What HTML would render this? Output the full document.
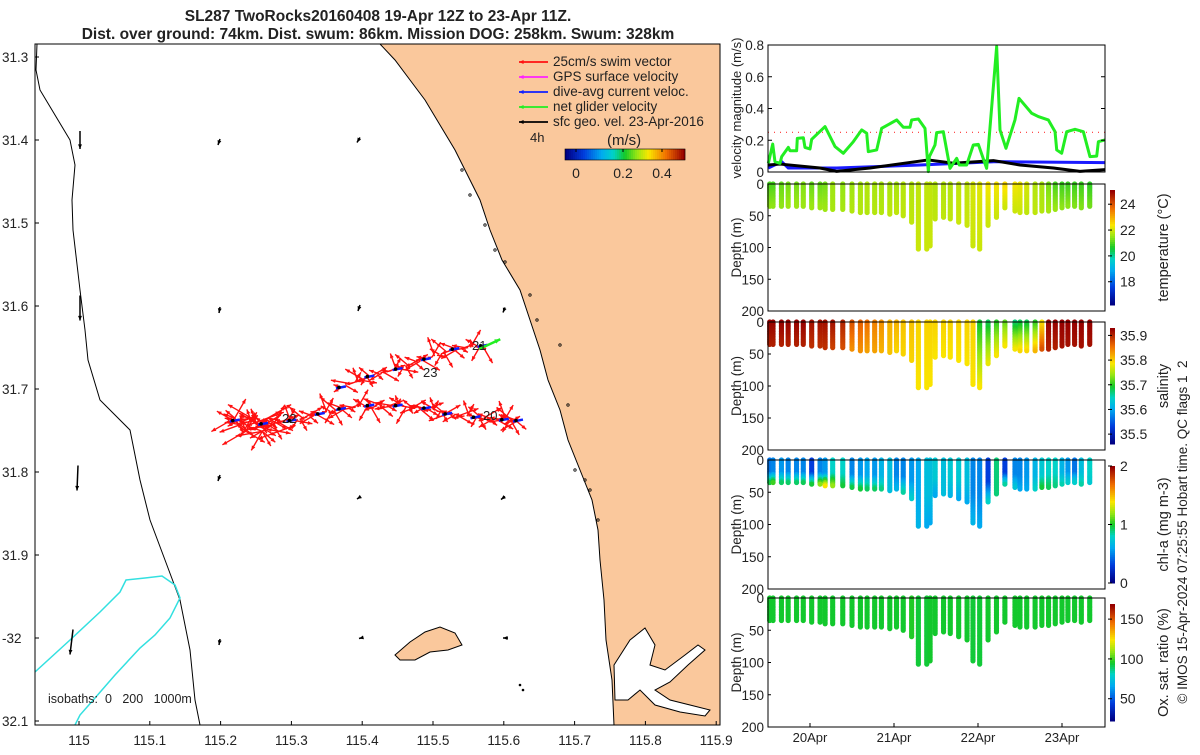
<!DOCTYPE html>
<html><head><meta charset="utf-8"><style>
body{margin:0;background:#fff;}
svg text{font-family:"Liberation Sans","DejaVu Sans",sans-serif;fill:#222;}
</style></head><body>
<svg id="fig" width="1200" height="750" viewBox="0 0 1200 750" xmlns="http://www.w3.org/2000/svg">
<text x="378" y="21" text-anchor="middle" font-size="15.5" font-weight="bold">SL287 TwoRocks20160408 19-Apr 12Z to 23-Apr 11Z.</text>
<text x="378" y="39" text-anchor="middle" font-size="15.5" font-weight="bold">Dist. over ground: 74km. Dist. swum: 86km. Mission DOG: 258km. Swum: 328km</text>
<g id="map"></g>
<g id="right"></g>
</svg>
<script>
// ---------- DATA ----------
const velDays=[19.504,19.556,19.583,19.643,19.663,19.742,19.762,19.841,19.849,19.921,19.94,20.0,20.02,20.179,20.298,20.397,20.516,20.615,20.675,20.694,20.794,20.853,21.032,21.111,21.19,21.21,21.29,21.369,21.409,21.421,21.488,21.508,21.587,21.667,21.746,21.778,21.865,21.944,22.004,22.103,22.222,22.262,22.333,22.44,22.488,22.639,22.718,22.837,22.917,22.937,22.996,23.056,23.155,23.254,23.333,23.413,23.433,23.512];
const netVel=[0.055,0.176,0.065,0.055,0.097,0.155,0.134,0.134,0.212,0.216,0.155,0.145,0.206,0.286,0.16,0.118,0.191,0.265,0.244,0.128,0.139,0.275,0.328,0.282,0.282,0.328,0.334,0.275,0.002,0.097,0.17,0.248,0.254,0.023,0.086,0.044,0.044,0.17,0.174,0.023,0.79,0.265,0.149,0.328,0.464,0.37,0.349,0.328,0.254,0.139,0.118,0.254,0.269,0.254,0.097,0.1,0.191,0.202];
const geoDays=[19.504,19.643,20.119,20.317,20.714,21.409,21.706,22.183,22.5,22.897,23.214,23.512];
const geoVel=[0.044,0.05,0.025,0.004,0.025,0.076,0.055,0.072,0.044,0.025,0.004,0.015];
const curDays=[19.504,19.663,19.742,20.317,21.31,22.222,23.512];
const curVel=[0.025,0.065,0.025,0.025,0.044,0.065,0.059];
const swimRef=0.25;
const profDays=[19.52,19.56,19.66,19.74,19.84,19.92,20.02,20.12,20.18,20.27,20.39,20.50,20.60,20.68,20.77,20.85,20.95,21.03,21.11,21.21,21.29,21.39,21.43,21.49,21.59,21.67,21.77,21.87,21.94,22.02,22.12,22.22,22.32,22.44,22.50,22.58,22.68,22.76,22.84,22.92,23.00,23.07,23.15,23.23,23.33];
const profDepth=[36,36,36,36,36,37,38,38,40,40,42,44,46,46,46,46,48,46,50,62,103,103,98,55,53,55,60,67,98,103,65,54,39,44,46,46,46,44,44,42,39,37,36,38,36];
const tempTop=[21.0,21.0,21.2,21.3,21.3,21.4,21.2,21.2,21.3,21.6,21.5,21.6,21.7,21.8,21.7,21.7,21.7,21.7,21.8,21.8,21.9,21.9,21.9,21.8,21.8,21.8,21.9,21.9,22.1,22.2,22.4,22.4,22.6,22.4,22.3,22.1,21.8,21.7,21.3,21.0,20.9,20.9,20.9,20.9,20.8];
const tempBot=[21.5,21.5,21.5,21.6,21.6,21.6,21.6,21.6,21.6,21.7,21.7,21.8,21.8,21.8,21.8,21.8,21.9,21.9,21.9,21.9,22.0,22.0,22.0,21.9,21.9,21.9,22.0,22.0,22.0,22.0,22.0,22.0,22.0,22.0,22.0,21.9,21.9,21.8,21.7,21.6,21.5,21.5,21.4,21.4,21.3];
const salTop=[35.93,35.93,35.93,35.93,35.93,35.93,35.92,35.92,35.92,35.92,35.91,35.88,35.87,35.86,35.85,35.84,35.82,35.82,35.81,35.81,35.80,35.80,35.80,35.80,35.80,35.80,35.80,35.80,35.80,35.69,35.68,35.70,35.72,35.67,35.68,35.68,35.70,35.79,35.93,35.93,35.93,35.93,35.93,35.93,35.93];
const salBot=[35.91,35.91,35.91,35.91,35.91,35.91,35.90,35.90,35.90,35.89,35.88,35.84,35.84,35.83,35.83,35.82,35.81,35.80,35.80,35.80,35.79,35.79,35.79,35.79,35.79,35.79,35.79,35.79,35.79,35.79,35.78,35.79,35.79,35.79,35.80,35.80,35.82,35.88,35.91,35.91,35.92,35.92,35.92,35.92,35.92];
const chlTop=[0.45,0.5,0.55,0.5,0.5,0.5,0.3,0.5,0.55,0.8,0.8,0.5,0.55,0.6,0.55,0.65,0.7,0.5,0.5,0.55,0.6,0.7,0.7,0.75,0.7,0.75,0.75,0.7,0.5,0.5,0.3,0.9,0.3,0.5,0.5,0.55,0.65,0.75,0.8,0.8,0.65,0.55,0.45,0.7,0.8];
const chlBot=[1.0,1.1,0.95,0.95,0.95,1.0,1.0,1.2,1.4,1.2,1.0,1.0,1.0,0.95,0.95,0.9,0.7,0.65,0.85,0.8,0.65,0.6,0.6,0.6,0.7,0.65,0.6,0.6,0.65,0.6,0.8,0.9,0.9,0.75,0.6,0.6,0.8,1.0,0.95,0.9,0.85,0.8,0.8,0.85,0.75];
const oxVal=[95,95,95,95,95,95,95,95,95,95,95,95,95,95,95,95,95,95,95,97,94,94,95,95,95,95,95,95,94,94,95,95,95,95,95,95,95,95,95,95,95,95,95,95,95];
const dateTicks=[20,21,22,23];
const dateLabels=["20Apr","21Apr","22Apr","23Apr"];
const lonTicks=[115,115.1,115.2,115.3,115.4,115.5,115.6,115.7,115.8,115.9];
const latTicks=[31.3,31.4,31.5,31.6,31.7,31.8,31.9,32.0,32.1];
const latLabels=["31.3","31.4","31.5","31.6","31.7","31.8","31.9","-32","32.1"];
const trackLonA=[115.22,115.26,115.30,115.34,115.37,115.41,115.45,115.49,115.52,115.56,115.60,115.62];
const trackLatA=[31.738,31.742,31.738,31.730,31.724,31.720,31.720,31.723,31.730,31.734,31.737,31.738];
const trackLonB=[115.37,115.41,115.45,115.49,115.53,115.57];
const trackLatB=[31.698,31.685,31.676,31.664,31.652,31.648];
// ---------- HELPERS ----------
const NS="http://www.w3.org/2000/svg";
function mk(parent,tag,attrs,text){const e=document.createElementNS(NS,tag);for(const k in attrs)e.setAttribute(k,attrs[k]);if(text!==undefined)e.textContent=text;parent.appendChild(e);return e;}
const cmapStops=[[0,0,0,130],[0.15,0,60,220],[0.3,0,170,240],[0.4,0,210,200],[0.5,20,200,40],[0.6,150,230,20],[0.7,250,230,0],[0.85,240,110,0],[1,150,0,0]];
function jet(t){t=Math.max(0,Math.min(1,t));for(let i=1;i<cmapStops.length;i++){const a=cmapStops[i-1],b=cmapStops[i];if(t<=b[0]){const f=(t-a[0])/(b[0]-a[0]);return `rgb(${Math.round(a[1]+(b[1]-a[1])*f)},${Math.round(a[2]+(b[2]-a[2])*f)},${Math.round(a[3]+(b[3]-a[3])*f)})`;}}return 'rgb(150,0,0)';}
const lonX=l=>79+(l-115)*708;
const latY=l=>57+(l-31.3)*830;
const dayX=d=>810+(d-20)*84;
// ---------- MAP ----------
const map=document.getElementById('map');
mk(map,'defs',{}).innerHTML='<clipPath id="mc"><rect x="35" y="44" width="685" height="681"/></clipPath>';
const mg=mk(map,'g',{'clip-path':'url(#mc)'});
const coast=[[380,44],[395,60],[410,80],[425,100],[440,125],[455,150],[465,170],[480,200],[490,230],[502,260],[520,290],[530,320],[540,350],[548,380],[560,410],[568,440],[580,470],[592,500],[598,530],[600,560],[604,600],[606,640],[612,680],[614,725]];
let land=mk(mg,'polygon',{points:coast.map(p=>p.join(',')).join(' ')+' 720,725 720,44',fill:'#fac89c',stroke:'#000','stroke-width':1});

let est=mk(mg,'path',{d:'M614,665 L630,640 L645,628 L655,645 L650,665 L665,670 L685,655 L698,645 L705,650 L688,665 L670,682 L655,690 L670,700 L690,705 L710,710 L705,716 L680,712 L655,705 L640,690 L628,700 L615,700 Z',fill:'#fff',stroke:'#000','stroke-width':1});

let isl=mk(mg,'polygon',{points:'395,655 410,642 425,632 440,627 455,633 462,645 448,650 430,652 415,660 400,660',fill:'#fac89c',stroke:'#000','stroke-width':1});

let iso200=mk(mg,'polyline',{points:'37,44 36,70 40,90 52,110 70,140 75,165 72,200 73,230 80,290 85,330 88,360 100,400 130,430 140,480 150,520 165,560 180,600 190,650 195,700 200,725',fill:'none',stroke:'#000','stroke-width':1});

let iso1000=mk(mg,'polyline',{points:'35,672 70,640 100,612 120,592 126,580 145,578 162,576 175,585 180,598 170,618 155,635 140,648 115,675 95,698 80,715 75,725',fill:'none',stroke:'#33e0e0','stroke-width':1.5});

[[462,170],[470,195],[485,225],[495,250],[505,262],[530,295],[537,320],[560,345],[568,405],[575,470],[585,480],[590,490],[598,520]].forEach(p=>mk(mg,'circle',{cx:p[0],cy:p[1],r:1.2,fill:'none',stroke:'#000','stroke-width':0.8}));
function arrow(g,x1,y1,x2,y2,col,w,hs){const a=Math.atan2(y2-y1,x2-x1);mk(g,'line',{x1,y1,x2,y2,stroke:col,'stroke-width':w});const h1=[x2-hs*Math.cos(a-0.4),y2-hs*Math.sin(a-0.4)],h2=[x2-hs*Math.cos(a+0.4),y2-hs*Math.sin(a+0.4)];mk(g,'polygon',{points:`${x2},${y2} ${h1} ${h2}`,fill:col});}
const geoG=mk(mg,'g',{});
[[80,140,0,18],[220,142,-2,6],[360,140,-3,5],[80,308,0,25],[220,310,-1,6],[360,308,-2,6],[505,310,-2,5],[78,478,-1,25],[220,478,-2,6],[360,498,-3,2],[505,498,-4,3],[73,642,-3,25],[220,642,-1,6],[363,638,-4,1],[508,638,-5,0]].forEach(a=>arrow(geoG,a[0],a[1]-a[3]/2,a[0]+a[2],a[1]+a[3]/2,'#000',1.5,5));
mk(mg,'circle',{cx:520,cy:685,r:1.3,fill:'#000'});mk(mg,'circle',{cx:523,cy:690,r:1.3,fill:'#000'});
const swimG=mk(mg,'g',{});
const angs=[200,150,30,-20,190,170,-60,250,10,-150,120,60,220,-30,160,40];
function swimAlong(lons,lats,n){for(let i=0;i<n;i++){const f=i/(n-1)*(lons.length-1);const k=Math.min(lons.length-2,Math.floor(f)),t=f-k;const x=lonX(lons[k]+(lons[k+1]-lons[k])*t),y=latY(lats[k]+(lats[k+1]-lats[k])*t);const a=angs[i%angs.length]*Math.PI/180,L=8+(i%5)*3;arrow(swimG,x,y,x+L*Math.cos(a),y+L*Math.sin(a),'#ff1010',1.4,5);}}
swimAlong(trackLonA,trackLatA,130);swimAlong(trackLonB,trackLatB,60);
for(let i=0;i<45;i++){const a=angs[(i*3)%16]*Math.PI/180,L=12+(i%4)*5;const x=lonX(115.22+0.07*(i%9)/9),y=latY(31.735+0.008*(i%3));arrow(swimG,x,y,x+L*Math.cos(a),y+L*Math.sin(a),'#ff1010',1.4,5);}
const trG=mk(mg,'g',{});
function dots(lons,lats){for(let k=0;k<lons.length;k++){const x=lonX(lons[k]),y=latY(lats[k]);arrow(trG,x-5,y+1,x+5,y-1,'#1020ff',2.5,3);mk(trG,'circle',{cx:x-2,cy:y,r:1.8,fill:'#000'});}}
dots(trackLonA,trackLatA);dots(trackLonB,trackLatB);
arrow(mg,lonX(115.565),latY(31.652),lonX(115.595),latY(31.64),'#22ee22',2.5,6);
mk(mg,'text',{x:282,y:423,'font-size':13},'22');mk(mg,'text',{x:423,y:377,'font-size':13},'23');mk(mg,'text',{x:483,y:420,'font-size':13},'20');mk(mg,'text',{x:472,y:350,'font-size':13},'21');
mk(map,'rect',{x:35,y:44,width:685,height:681,fill:'none',stroke:'#000','stroke-width':1});
lonTicks.forEach((l,i)=>{const x=lonX(l);mk(map,'line',{x1:x,y1:725,x2:x,y2:721,stroke:'#000'});let t=mk(map,'text',{x,y:745,'text-anchor':'middle','font-size':13.5},String(l));});
latTicks.forEach((l,i)=>{const y=latY(l);mk(map,'line',{x1:35,y1:y,x2:39,y2:y,stroke:'#000'});let t=mk(map,'text',{x:2,y:y+5,'font-size':13.5},latLabels[i]);});
let iso=mk(map,'text',{x:48,y:703,'font-size':12.5},'isobaths:\u00a0 0 \u00a0 200 \u00a0 1000m');
const lg=mk(map,'g',{});
[['25cm/s swim vector','#ff1010'],['GPS surface velocity','#ff22ff'],['dive-avg current veloc.','#1020ff'],['net glider velocity','#22ee22'],['sfc geo. vel. 23-Apr-2016','#000']].forEach((e,i)=>{const y=62+i*15;arrow(lg,548,y,519,y,e[1],1.8,5);let t=mk(lg,'text',{x:553,y:y+4,'font-size':13.5},e[0]);});
mk(lg,'text',{x:530,y:142,'font-size':13},'4h');mk(lg,'text',{x:607,y:145,'font-size':15},'(m/s)');
for(let i=0;i<60;i++)mk(lg,'rect',{x:565+i*2,y:149,width:2.2,height:11,fill:jet(i/59)});
mk(lg,'rect',{x:565,y:149,width:120,height:11,fill:'none',stroke:'#000','stroke-width':0.6});
[[0,'0',576],[0.2,'0.2',623],[0.4,'0.4',662]].forEach(t=>{mk(lg,'line',{x1:t[2],y1:149,x2:t[2],y2:152,stroke:'#000'});mk(lg,'text',{x:t[2],y:178,'text-anchor':'middle','font-size':14},t[1]);});
// ---------- RIGHT PANELS ----------
const R=document.getElementById('right');
const L0=768,R0=1105;
const vg=mk(R,'g',{});
const vy=v=>172-v*158.75;
mk(vg,'line',{x1:L0,y1:vy(swimRef),x2:R0,y2:vy(swimRef),stroke:'#ff3030','stroke-width':1.2,'stroke-dasharray':'1,5'});
function series(g,xs,ys,col,w,name){let p=mk(g,'polyline',{points:xs.map((d,i)=>dayX(d)+','+vy(ys[i])).join(' '),fill:'none',stroke:col,'stroke-width':w,'stroke-linejoin':'round'});}
series(vg,curDays,curVel,'#1a1aff',3,'dive-avg-current-line');
series(vg,geoDays,geoVel,'#000',3,'geo-velocity-line');
series(vg,velDays,netVel,'#22ee22',3,'net-velocity-line');
mk(vg,'rect',{x:L0,y:45,width:R0-L0,height:127,fill:'none',stroke:'#000'});
[0,0.2,0.4,0.6,0.8].forEach(v=>{const y=vy(v);mk(vg,'line',{x1:L0,y1:y,x2:L0+4,y2:y,stroke:'#000'});mk(vg,'line',{x1:R0,y1:y,x2:R0-4,y2:y,stroke:'#000'});mk(vg,'text',{x:764,y:y+5,'text-anchor':'end','font-size':13.5},String(v));});
mk(vg,'text',{x:0,y:0,transform:'translate(741,108) rotate(-90)','text-anchor':'middle','font-size':13},'velocity magnitude (m/s)');
function profPanel(top,bot,name,colFn,cbTicks,cbMin,cbMax,cbLabel){
 const g=mk(R,'g',{});
 const dy=d=>top+d*(bot-top)/200;
 profDays.forEach((d,i)=>{const x=dayX(d),md=profDepth[i];for(let z=0;z<=md;z+=2.5){mk(g,'circle',{cx:x,cy:dy(z),r:2.6,fill:colFn(i,z/md)});}});
 mk(g,'rect',{x:L0,y:top,width:R0-L0,height:bot-top,fill:'none',stroke:'#000'});
 [0,50,100,150,200].forEach(v=>{mk(g,'text',{x:764,y:dy(v)+5,'text-anchor':'end','font-size':13.5},String(v));mk(g,'line',{x1:L0,y1:dy(v),x2:L0+3,y2:dy(v),stroke:'#000'});});
 mk(g,'text',{x:0,y:0,transform:`translate(741,${(top+bot)/2}) rotate(-90)`,'text-anchor':'middle','font-size':13.5},'Depth (m)');
 const cb0=top+6,cb1=bot-6;
 for(let i=0;i<58;i++)mk(g,'rect',{x:1110,y:cb1-(i+1)*(cb1-cb0)/58,width:5,height:(cb1-cb0)/58+0.5,fill:jet(i/57)});
 cbTicks.forEach(t=>{const y=cb1-(t[0]-cbMin)/(cbMax-cbMin)*(cb1-cb0);mk(g,'line',{x1:1108,y1:y,x2:1112,y2:y,stroke:'#000'});mk(g,'text',{x:1120,y:y+5,'font-size':14},t[1]);});
 mk(g,'text',{x:0,y:0,transform:`translate(1168,${(top+bot)/2}) rotate(-90)`,'text-anchor':'middle','font-size':14.5},cbLabel);
 return dy;}
profPanel(184,311,'temperature-panel',(i,f)=>jet((tempTop[i]+(tempBot[i]-tempTop[i])*f-16.2)/8.9),[[18,'18'],[20,'20'],[22,'22'],[24,'24']],16.2,25.1,'temperature (°C)');
profPanel(322,450,'salinity-panel',(i,f)=>jet((salTop[i]+(salBot[i]-salTop[i])*f-35.46)/0.47),[[35.5,'35.5'],[35.6,'35.6'],[35.7,'35.7'],[35.8,'35.8'],[35.9,'35.9']],35.46,35.93,'salinity');
profPanel(460,589,'chlorophyll-panel',(i,f)=>{const c=f<0.55?chlTop[i]:chlTop[i]+(chlBot[i]-chlTop[i])*(f-0.55)/0.45;return jet(c/2);},[[0,'0'],[1,'1'],[2,'2']],0,2,'chl-a (mg m-3)');
profPanel(598,727,'oxygen-panel',(i,f)=>jet((oxVal[i]-22)/147),[[50,'50'],[100,'100'],[150,'150']],22,169,'Ox. sat. ratio (%)');
dateTicks.forEach((d,i)=>{const x=dayX(d);mk(R,'line',{x1:x,y1:727,x2:x,y2:723,stroke:'#000'});let t=mk(R,'text',{x,y:742,'text-anchor':'middle','font-size':13},dateLabels[i]);});
let imos=mk(R,'text',{x:0,y:0,transform:'translate(1187,532) rotate(-90)','text-anchor':'middle','font-size':13.5},'© IMOS 15-Apr-2024 07:25:55 Hobart time. QC flags 1\u00a0 2');

</script>
</body></html>
